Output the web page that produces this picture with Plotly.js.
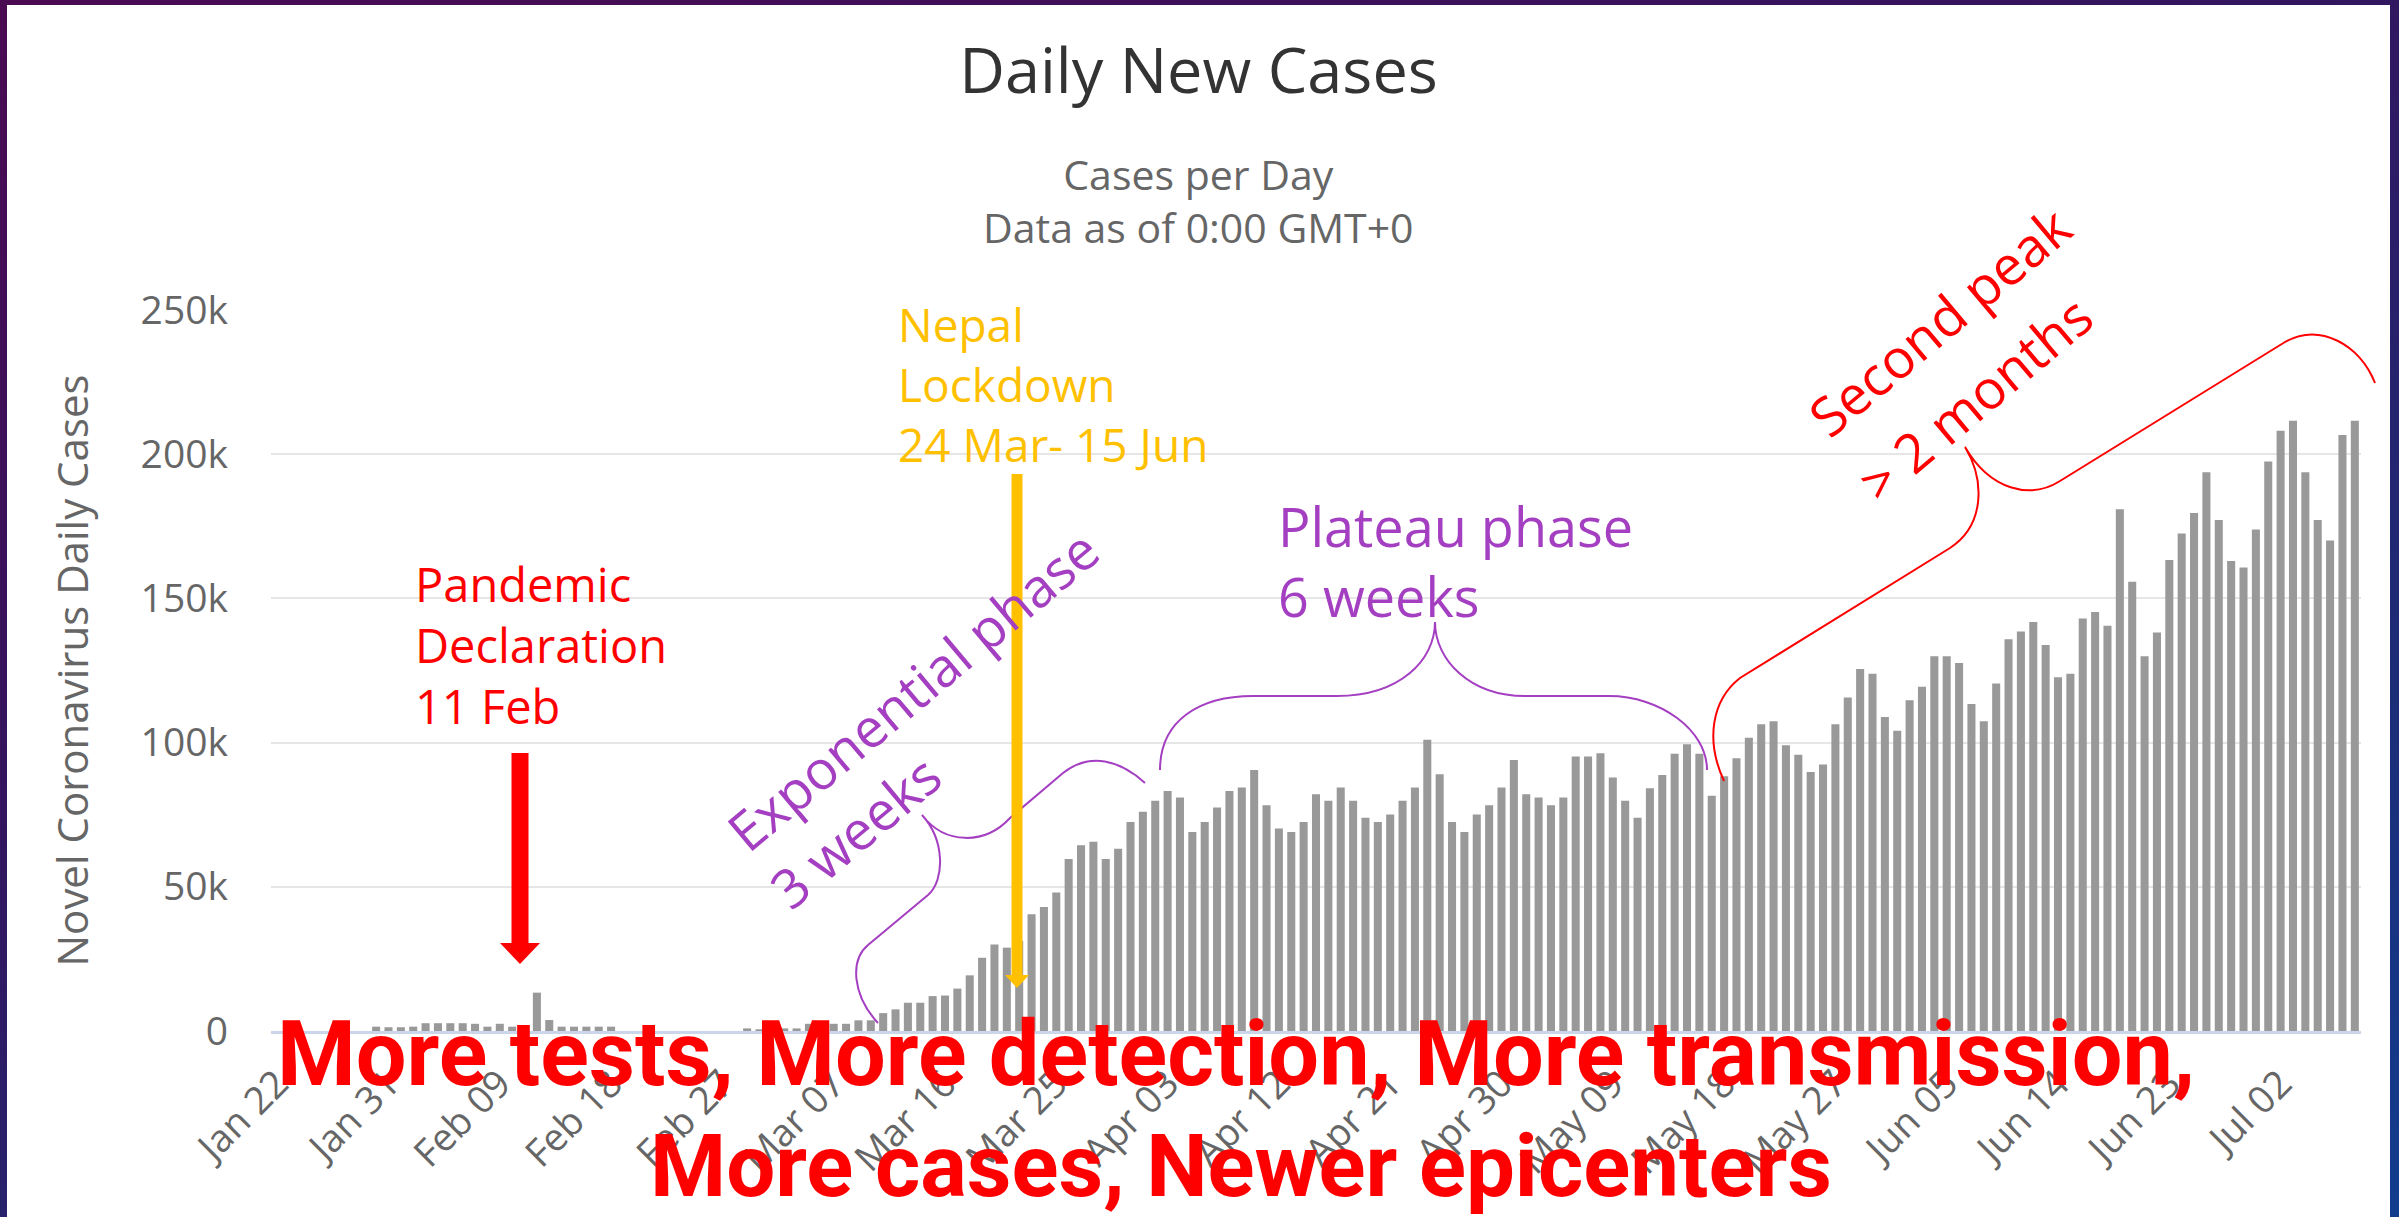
<!DOCTYPE html>
<html>
<head>
<meta charset="utf-8">
<script src="https://cdn.plot.ly/plotly-3.0.1.min.js"></script>
<style>
  html, body { margin: 0; padding: 0; width: 2399px; height: 1217px; overflow: hidden;
    background: linear-gradient(160deg, #4a0a52 0%, #33155f 40%, #1c2d78 75%, #123c8e 100%); }
  #chart { position: absolute; left: 7px; top: 5px; width: 2383px; height: 1212px; background: #ffffff; }
</style>
</head>
<body>
<div id="chart"></div>
<script>
// ---------------- data ----------------
const startDay = '2020-01-22';
const dayCount = 169;
const xTickLabels = ['Jan 22','Jan 31','Feb 09','Feb 18','Feb 27','Mar 07','Mar 16','Mar 25','Apr 03',
  'Apr 12','Apr 21','Apr 30','May 09','May 18','May 27','Jun 05','Jun 14','Jun 23','Jul 02'];
const yTickVals = [0, 50000, 100000, 150000, 200000, 250000];
const yTickText = ['0', '50k', '100k', '150k', '200k', '250k'];
const dailyCases = [
  0,0,0,0,0,0,0,0,1500,1300,
  1300,1500,2700,2700,2700,2700,2500,1500,2500,1500,
  1500,13300,3800,1500,1500,1500,1500,1500,0,0,
  0,0,0,0,0,0,0,0,900,600,
  600,900,900,2500,2500,2500,2500,3700,3700,6200,
  7500,9800,9800,12100,12300,14700,19300,25400,30000,28900,
  31200,40500,43000,48000,59600,64400,65600,59600,63200,72500,
  76000,79800,83200,81000,69000,72500,77500,83200,84400,90500,
  78300,70200,69000,72500,82100,79800,84400,79800,73900,72500,
  75100,79800,84400,101000,89000,72500,69000,75100,78300,84400,
  94000,82100,81000,78300,81000,95200,95200,96300,87900,79800,
  73900,84200,88800,96100,99400,96100,81600,88300,94600,101700,
  106400,107400,99100,95800,89800,92400,106400,115600,125500,123900,
  108900,104100,114700,119400,129900,129900,127600,113400,107400,120500,
  135800,138500,141800,133800,122700,123900,143000,145300,140500,180900,
  155800,129900,138200,163300,172500,179600,193700,177200,163000,160700,
  173900,197500,208100,211600,193700,177200,170100,206700,211600
];

// category labels: one per day from startDay
const MONTHS = ['Jan','Feb','Mar','Apr','May','Jun','Jul','Aug','Sep','Oct','Nov','Dec'];
const days = [];
{
  const d = new Date(startDay + 'T00:00:00Z');
  for (let i = 0; i < dayCount; i++) {
    const dd = String(d.getUTCDate()).padStart(2, '0');
    days.push(MONTHS[d.getUTCMonth()] + ' ' + dd);
    d.setUTCDate(d.getUTCDate() + 1);
  }
}

// ---------------- layout helpers (page pixels -> paper) ----------------
const DIV_L = 7, DIV_T = 5, DIV_W = 2383, DIV_H = 1212;
const M = { l: 264, r: 29, t: 305, b: 186 };
const PW = DIV_W - M.l - M.r, PH = DIV_H - M.t - M.b;
const px = X => (X - DIV_L - M.l) / PW;
const py = Y => (DIV_H - M.b + DIV_T - Y) / PH;
function path(cmds) {
  return cmds.map(c => {
    const out = [c[0]];
    for (let i = 1; i < c.length; i += 2) out.push(px(c[i]).toFixed(5) + ',' + py(c[i + 1]).toFixed(5));
    return out.join(' ');
  }).join(' ');
}

const FONT = 'Open Sans, Noto Sans, sans-serif';
const PURPLE = '#a43fc2', RED = '#ff0000', GOLD = '#ffc000';

const shapes = [
  // Exponential phase brace
  { type: 'path', xref: 'paper', yref: 'paper', line: { color: PURPLE, width: 2 },
    path: path([['M',878,1023],['C',852,995,850,960,868,945],['L',928,895],['C',945,880,945,840,922,815],
                ['C',945,845,985,845,1010,818],['L',1063,773],['C',1090,752,1120,760,1145,783]]) },
  // Plateau brace
  { type: 'path', xref: 'paper', yref: 'paper', line: { color: PURPLE, width: 2 },
    path: path([['M',1160,770],['C',1160,720,1200,696,1253,696],['L',1337,696],['C',1400,696,1435,660,1435,622],
                ['C',1435,660,1470,696,1525,696],['L',1609,696],['C',1660,696,1707,730,1707,770]]) },
  // Second peak brace
  { type: 'path', xref: 'paper', yref: 'paper', line: { color: RED, width: 2 },
    path: path([['M',1724,781],['C',1705,740,1712,700,1740,678],['L',1950,548],['C',1985,525,1985,480,1965,447],
                ['C',1990,490,2030,500,2060,481],['L',2285,342],['C',2320,322,2360,345,2375,383]]) },
  // Red arrow (pandemic declaration)
  { type: 'path', xref: 'paper', yref: 'paper', line: { width: 0 }, fillcolor: RED,
    path: path([['M',511.5,753],['L',528.5,753],['L',528.5,943],['L',540,943],['L',520,964],['L',500,943],['L',511.5,943]]) + ' Z' },
  // Gold arrow (lockdown)
  { type: 'path', xref: 'paper', yref: 'paper', line: { width: 0 }, fillcolor: GOLD,
    path: path([['M',1011.5,474],['L',1022.5,474],['L',1022.5,975],['L',1029,975],['L',1017,988],['L',1005,975],['L',1011.5,975]]) + ' Z' }
];

const ann = (text, X, Y, opts) => Object.assign({
  text, xref: 'paper', yref: 'paper', x: px(X), y: py(Y), showarrow: false,
  xanchor: 'center', yanchor: 'middle'
}, opts);

const annotations = [
  ann('Cases per Day<br>Data as of 0:00 GMT+0', 1198, 200, { font: { family: FONT, size: 41, color: '#666666' } }),
  ann('Pandemic<br>Declaration<br>11 Feb', 413, 645, { xanchor: 'left', align: 'left',
      font: { family: FONT, size: 47, color: RED } }),
  ann('Nepal<br>Lockdown<br>24 Mar- 15 Jun', 896, 384, { xanchor: 'left', align: 'left',
      font: { family: FONT, size: 46, color: GOLD } }),
  ann('Plateau phase<br>6 weeks', 1276, 561, { xanchor: 'left', align: 'left',
      font: { family: FONT, size: 54, color: PURPLE } }),
  ann('Exponential phase', 912, 690, { textangle: -40, font: { family: FONT, size: 54, color: PURPLE } }),
  ann('3 weeks', 855, 831, { textangle: -40, font: { family: FONT, size: 54, color: PURPLE } }),
  ann('Second peak', 1939, 321, { textangle: -40, font: { family: FONT, size: 54, color: RED } }),
  ann('> 2 months', 1975, 398, { textangle: -40, font: { family: FONT, size: 54, color: RED } }),
  ann('<b>More tests, More detection, More transmission,</b>', 1236, 1054,
      { font: { family: 'Roboto, Open Sans, sans-serif', size: 90, color: RED } }),
  ann('<b>More cases, Newer epicenters</b>', 1241, 1166,
      { font: { family: 'Roboto, Open Sans, sans-serif', size: 87, color: RED } })
];

const trace = {
  type: 'bar', x: days, y: dailyCases,
  marker: { color: '#999999', line: { width: 0 } },
  hoverinfo: 'none'
};

const layout = {
  width: DIV_W, height: DIV_H,
  margin: M,
  paper_bgcolor: '#ffffff', plot_bgcolor: '#ffffff',
  font: { family: FONT, color: '#666666' },
  showlegend: false,
  bargap: 0.35,
  title: { text: 'Daily New Cases', font: { family: FONT, size: 63, color: '#333333' },
           x: 0.5, xanchor: 'center', xref: 'container', y: 1 - (71 - DIV_T) / DIV_H, yanchor: 'middle', yref: 'container' },
  xaxis: {
    type: 'category', range: [-0.5, dayCount - 0.5],
    tickmode: 'array', tickvals: xTickLabels, ticktext: xTickLabels,
    tickangle: -45, tickfont: { family: FONT, size: 38, color: '#666666' },
    showgrid: false, zeroline: false, showline: true, linecolor: '#ccd6eb', linewidth: 3,
    ticks: '', ticklabelstandoff: 12, fixedrange: true
  },
  yaxis: {
    range: [0, 250000], tickmode: 'array', tickvals: yTickVals, ticktext: yTickText,
    tickfont: { family: FONT, size: 39, color: '#666666' },
    showgrid: true, gridcolor: '#e6e6e6', gridwidth: 2, zeroline: false, showline: false,
    ticks: '', ticklabelstandoff: 42, fixedrange: true,
    title: { text: 'Novel Coronavirus Daily Cases', font: { family: FONT, size: 42, color: '#666666' }, standoff: 38 }
  },
  shapes, annotations
};

Plotly.newPlot('chart', [trace], layout, { displayModeBar: false, staticPlot: true });
</script>
</body>
</html>
